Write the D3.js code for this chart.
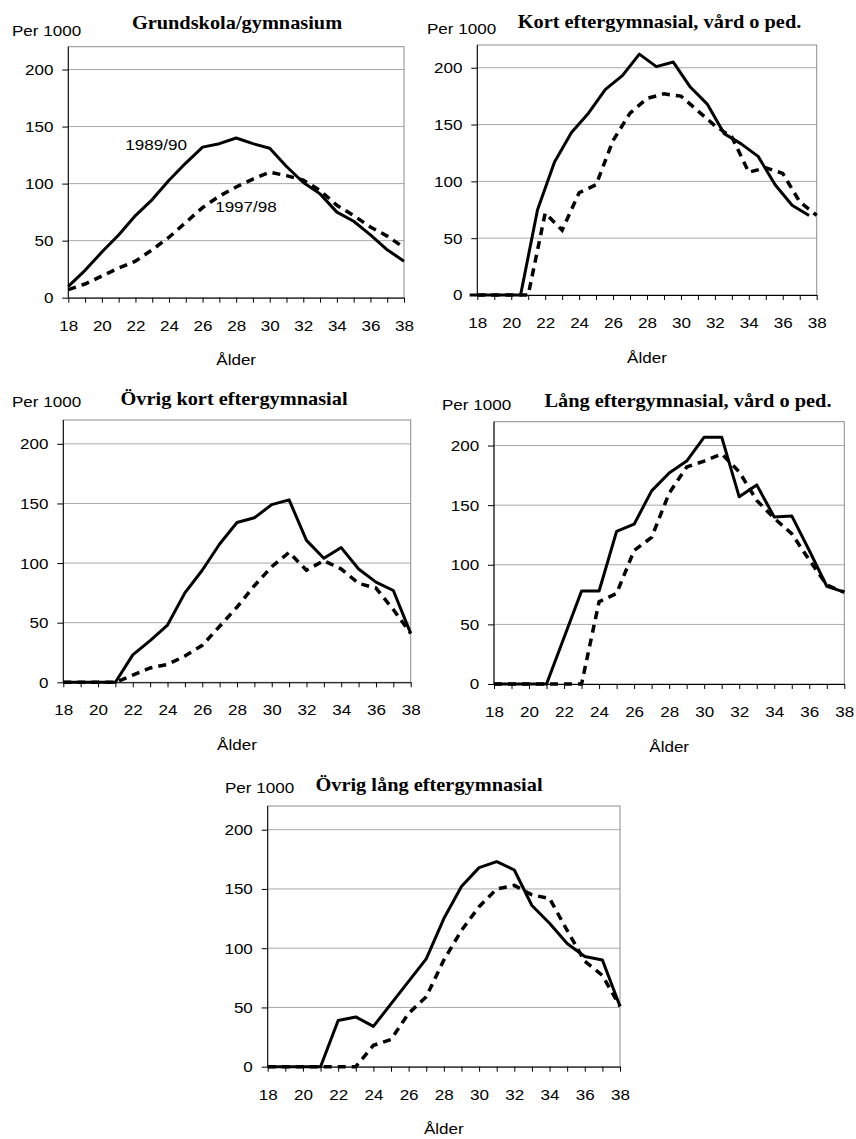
<!DOCTYPE html>
<html>
<head>
<meta charset="utf-8">
<script src="https://cdn.jsdelivr.net/npm/d3@7"></script>
<style>
  body { margin: 0; background: #fff; }
  .tick text { font-family: "Liberation Sans", Arial, sans-serif; font-size: 15.5px; fill: #000; }
  .lbl { font-family: "Liberation Sans", Arial, sans-serif; font-size: 15.5px; fill: #000; }
  .ttl { font-family: "Liberation Serif", "Times New Roman", serif; font-size: 18.5px; font-weight: bold; fill: #000; }
</style>
</head>
<body>
<div class="chart"></div>
<script>
// ages on the x axis, rates per 1000 on the y axis
var ages = [18, 19, 20, 21, 22, 23, 24, 25, 26, 27, 28, 29, 30, 31, 32, 33, 34, 35, 36, 37, 38];
var xTickLabels = [18, 20, 22, 24, 26, 28, 30, 32, 34, 36, 38];
var yTicks = [0, 50, 100, 150, 200];
var seriesNames = ["1989/90", "1997/98"];

var titles = [
  "Grundskola/gymnasium",
  "Kort eftergymnasial, vård o ped.",
  "Övrig kort eftergymnasial",
  "Lång eftergymnasial, vård o ped.",
  "Övrig lång eftergymnasial"
];

var grund8990 = [10, 24, 40, 55, 72, 86, 103, 118, 132, 135, 140, 135, 131, 115, 101, 91, 75, 67, 55, 42, 32];
var grund9798 = [7, 12, 19, 26, 32, 42, 53, 66, 79, 89, 97, 104, 110, 107, 103, 94, 81, 72, 62, 54, 44];

var kortVard8990 = [0, 0, 0, 0, 75, 117, 143, 160, 181, 193, 212, 201, 205, 183, 168, 142, 133, 122, 97, 79, 70];
var kortVard9798 = [0, 0, 0, 0, 72, 57, 90, 97, 136, 160, 173, 177, 175, 162, 149, 139, 108, 112, 107, 82, 70];

var ovrKort8990 = [0, 0, 0, 0, 23, 35, 48, 75, 94, 116, 134, 138, 149, 153, 119, 104, 113, 95, 84, 77, 41];
var ovrKort9798 = [0, 0, 0, 0, 6, 12, 15, 22, 31, 47, 63, 81, 97, 109, 94, 102, 95, 83, 79, 61, 41];

var langVard8990 = [0, 0, 0, 0, 39, 78, 78, 128, 134, 162, 177, 187, 207, 207, 157, 167, 140, 141, 112, 82, 77];
var langVard9798 = [0, 0, 0, 0, 0, 0, 69, 76, 112, 123, 160, 182, 187, 193, 178, 154, 139, 126, 104, 83, 77];

var ovrLang8990 = [0, 0, 0, 0, 39, 42, 34, 53, 72, 91, 125, 152, 168, 173, 166, 136, 121, 104, 93, 90, 51];
var ovrLang9798 = [0, 0, 0, 0, 0, 0, 18, 23, 45, 59, 90, 115, 135, 150, 153, 145, 142, 115, 89, 77, 51];

// panel placement on the page
var panels = [
  { title: titles[0], a: grund8990, b: grund9798, left: 68.3, right: 404, bottom: 297.7, top: 46.7,
    titleX: 237, titleY: 28.5, perX: 12, perY: 36, shiftA: 0, notes: true },
  { title: titles[1], a: kortVard8990, b: kortVard9798, left: 477.3, right: 816.7, bottom: 295, top: 45,
    titleX: 659.5, titleY: 28.3, perX: 427, perY: 33.5, shiftA: -0.45 },
  { title: titles[2], a: ovrKort8990, b: ovrKort9798, left: 63.3, right: 410.7, bottom: 682.3, top: 420,
    titleX: 234, titleY: 405, perX: 12, perY: 406.7, shiftA: 0 },
  { title: titles[3], a: langVard8990, b: langVard9798, left: 494, right: 844.3, bottom: 684, top: 421.7,
    titleX: 688, titleY: 406.7, perX: 442, perY: 410, shiftA: 0 },
  { title: titles[4], a: ovrLang8990, b: ovrLang9798, left: 267.7, right: 620, bottom: 1066.7, top: 806,
    titleX: 429, titleY: 790.7, perX: 225, perY: 793, shiftA: 0 }
];

var svg = d3.select(".chart")
  .append("svg")
  .attr("width", 856)
  .attr("height", 1139);

svg.append("rect").attr("width", 856).attr("height", 1139).attr("fill", "#fff");

// text slightly stretched horizontally, like the original picture
function label(x, y, str, cls, anchor) {
  return svg.append("text")
    .attr("class", cls)
    .attr("text-anchor", anchor || "start")
    .attr("transform", `translate(${x},${y}) scale(1.1,1)`)
    .text(str);
}

panels.forEach(function(p) {
  var x = d3.scaleLinear().domain([18, 38]).range([p.left, p.right]);
  var y = d3.scaleLinear().domain([0, 220]).range([p.bottom, p.top]);

  // gridlines
  svg.append("g")
    .selectAll("line")
    .data(yTicks.filter(d => d > 0))
    .enter()
    .append("line")
    .attr("x1", p.left).attr("x2", p.right)
    .attr("y1", d => y(d)).attr("y2", d => y(d))
    .attr("stroke", "#a8a8a8")
    .attr("stroke-width", 1);

  // plot frame
  svg.append("rect")
    .attr("x", p.left).attr("y", p.top)
    .attr("width", p.right - p.left).attr("height", p.bottom - p.top)
    .attr("fill", "none")
    .attr("stroke", "#8c8c8c")
    .attr("stroke-width", 1);

  var leftAxis = d3.axisLeft(y).tickValues(yTicks).tickSize(6).tickSizeOuter(0).tickPadding(7.5);
  var gy = svg.append("g")
    .attr("transform", `translate(${p.left},0)`)
    .call(leftAxis);
  gy.select(".domain").attr("stroke", "#000").attr("d", `M0,${p.bottom}V${p.top}`);
  gy.selectAll("text").attr("transform", "scale(1.1,1)");

  var bottomAxis = d3.axisBottom(x)
    .tickValues(ages)
    .tickSize(5)
    .tickSizeOuter(0)
    .tickPadding(17)
    .tickFormat(d => xTickLabels.indexOf(d) >= 0 ? d : "");
  var gx = svg.append("g")
    .attr("transform", `translate(0,${p.bottom})`)
    .call(bottomAxis);
  gx.select(".domain").attr("stroke", "#000");
  gx.selectAll("text").attr("transform", "scale(1.1,1)");

  var line = d3.line().x(d => d.x).y(d => d.y);

  var ptsB = ages.map((age, i) => ({ x: x(age), y: y(p.b[i]) }));
  var ptsA = ages.map((age, i) => ({ x: x(age + p.shiftA), y: y(p.a[i]) }));

  svg.append("path")
    .attr("d", line(ptsB))
    .attr("fill", "none")
    .attr("stroke", "#000")
    .attr("stroke-width", 3.5)
    .attr("stroke-dasharray", "8,6");

  svg.append("path")
    .attr("d", line(ptsA))
    .attr("fill", "none")
    .attr("stroke", "#000")
    .attr("stroke-width", 3)
    .attr("stroke-linejoin", "round");

  label(p.titleX, p.titleY, p.title, "ttl", "middle");
  label(p.perX, p.perY, "Per 1000", "lbl");
  label((p.left + p.right) / 2, p.bottom + 67.5, "Ålder", "lbl", "middle");

  if (p.notes) {
    label(x(21.4), y(129.5), seriesNames[0], "lbl");
    label(x(26.75), y(75), seriesNames[1], "lbl");
  }
});
</script>
</body>
</html>
